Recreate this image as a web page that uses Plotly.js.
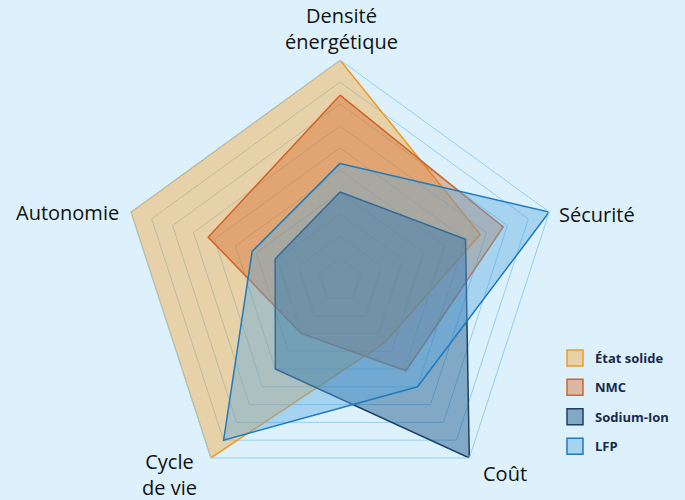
<!DOCTYPE html>
<html>
<head>
<meta charset="utf-8">
<script src="https://cdn.plot.ly/plotly-3.0.1.min.js"></script>
<style>
  html, body { margin: 0; padding: 0; background: #DCF1FC; }
  #chart { width: 685px; height: 500px; }
</style>
</head>
<body>
<div id="chart"></div>
<script>
// Axes (categories), clockwise from top
const categories = ["Densité<br>énergétique", "Sécurité", "Coût", "Cycle<br>de vie", "Autonomie"];

// Series values (0–10 scale)
const seriesNames = ["État solide", "NMC", "Sodium-Ion", "LFP"];
const etatSolide = [10, 6.7, 3.5, 10, 10];
const nmc        = [8.4, 7.8, 5.1, 3.0, 6.3];
const sodiumIon  = [4.0, 6.0, 10, 5.0, 3.1];
const lfp        = [5.3, 10, 6.0, 9.0, 4.2];

const seriesValues = [etatSolide, nmc, sodiumIon, lfp];
const lineColors = ["#F29A1F", "#D2642A", "#1D3F66", "#1F7BC0"];
const fillColors = ["rgba(250,158,32,0.38)", "rgba(215,100,35,0.40)", "rgba(30,90,140,0.48)", "rgba(90,170,225,0.42)"];

const close = a => a.concat([a[0]]);

const traces = [];
seriesValues.forEach((vals, i) => {
  traces.push({
    type: "scatterpolar",
    r: close(vals),
    theta: close(categories),
    mode: "lines",
    fill: "toself",
    fillcolor: fillColors[i],
    line: { color: lineColors[i], width: 1.5 },
    name: seriesNames[i],
    showlegend: false,
    hoverinfo: "skip"
  });
});
// legend swatches
seriesValues.forEach((vals, i) => {
  traces.push({
    type: "scatterpolar",
    r: [null],
    theta: [categories[0]],
    mode: "markers",
    name: seriesNames[i],
    legendgroup: "g" + i,
    marker: { symbol: "square", size: 16, color: fillColors[i], line: { color: lineColors[i], width: 1.5 } },
    showlegend: true
  });
});

// axis label placement (pixels) -> paper coords of plot area
const L = 120, T = 60, W = 440, H = 440;
const px = x => (x - L) / W;
const py = y => (T + H - y) / H;
const labelPos = [
  { x: 341, y: 29, xa: "center" },
  { x: 557, y: 214, xa: "left" },
  { x: 481, y: 473, xa: "left" },
  { x: 169, y: 474, xa: "center" },
  { x: 121, y: 212, xa: "right" }
];
const labelFont = { family: "'Open Sans', sans-serif", size: 20, color: "#111" };
const annotations = categories.map((c, i) => ({
  text: c,
  xref: "paper", yref: "paper",
  x: px(labelPos[i].x), y: py(labelPos[i].y),
  xanchor: labelPos[i].xa, yanchor: "middle",
  showarrow: false,
  font: labelFont
}));

const layout = {
  width: 685,
  height: 500,
  paper_bgcolor: "#DCF1FC",
  plot_bgcolor: "#DCF1FC",
  margin: { l: L, r: 685 - L - W, t: T, b: 500 - T - H },
  font: { family: "'Open Sans', sans-serif", color: "#111" },
  showlegend: true,
  legend: {
    x: px(555), xanchor: "left",
    y: py(343), yanchor: "top",
    bgcolor: "rgba(0,0,0,0)",
    font: { family: "'Open Sans', sans-serif", size: 13, color: "#1B2B4B", weight: "bold" },
    tracegroupgap: 9.5
  },
  annotations: annotations,
  polar: {
    domain: { x: [0, 1], y: [0, 1] },
    bgcolor: "rgba(0,0,0,0)",
    gridshape: "linear",
    radialaxis: {
      range: [0, 10],
      dtick: 1,
      showticklabels: false,
      ticks: "",
      showline: false,
      gridcolor: "#96CDEF",
      gridwidth: 1
    },
    angularaxis: {
      rotation: 90,
      direction: "clockwise",
      showgrid: false,
      showline: true,
      linecolor: "#96CDEF",
      linewidth: 1,
      ticks: "",
      showticklabels: false
    }
  }
};

Plotly.newPlot("chart", traces, layout, { displayModeBar: false, staticPlot: true });
</script>
</body>
</html>
